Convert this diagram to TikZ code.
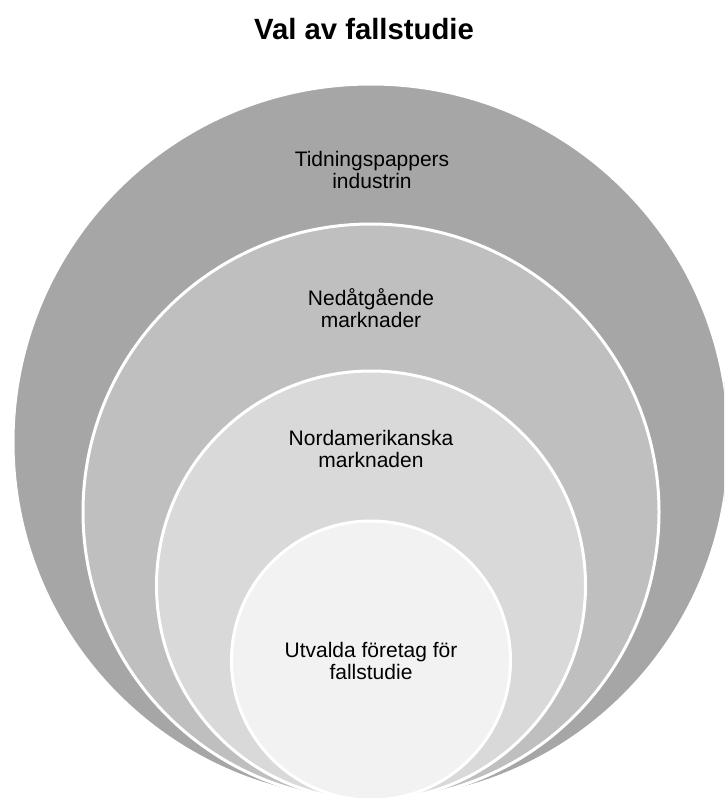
\documentclass[tikz,border=0pt]{standalone}
\usepackage{fontspec}
\setmainfont{Liberation Sans}
\definecolor{ringA}{HTML}{A6A6A6}
\definecolor{ringB}{HTML}{BFBFBF}
\definecolor{ringC}{HTML}{D9D9D9}
\definecolor{ringD}{HTML}{F2F2F2}
\tikzset{
  ring/.style={draw=white, line width=3pt},
  lbl/.style={anchor=base, inner sep=0pt, text=black, font=\fontsize{21}{23}\selectfont},
  ttl/.style={anchor=base, inner sep=0pt, text=black, font=\fontsize{29.3}{32}\selectfont\bfseries}
}
\begin{document}
\begin{tikzpicture}[x=1pt,y=-1pt]
\useasboundingbox (0,0) rectangle (724,798);
\clip (0,0) rectangle (724,798);
\fill[white] (0,0) rectangle (724,798);
% circles, all tangent at the bottom (y = 800)
\filldraw[ring, fill=ringA] (371,442) circle (358);
\filldraw[ring, fill=ringB] (371,512) circle (288);
\filldraw[ring, fill=ringC] (371,585.5) circle (214.5);
\filldraw[ring, fill=ringD] (371,660.5) circle (139.5);
% title
\node[ttl] (title) at (364,39.5) {Val av fallstudie};
% labels
\node[lbl] (l1a) at (372,166) {Tidningspappers};
\node[lbl] (l1b) at (372,188) {industrin};
\node[lbl] (l2a) at (371,305) {Nedåtgående};
\node[lbl] (l2b) at (371,327) {marknader};
\node[lbl] (l3a) at (371,445) {Nordamerikanska};
\node[lbl] (l3b) at (371,467) {marknaden};
\node[lbl] (l4a) at (371,657) {Utvalda företag för};
\node[lbl] (l4b) at (371,679) {fallstudie};
\end{tikzpicture}
\end{document}
